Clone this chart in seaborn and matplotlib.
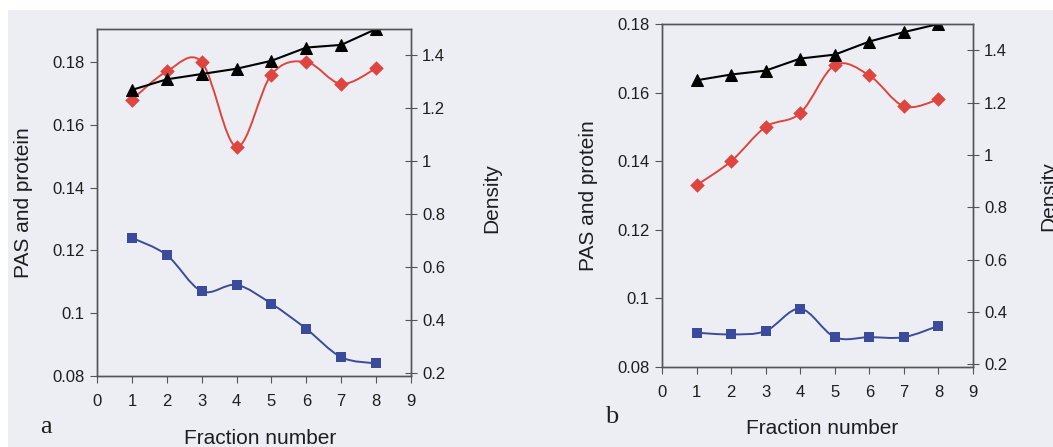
import numpy as np
import matplotlib
matplotlib.use("Agg")
import matplotlib.pyplot as plt
from matplotlib.path import Path
from matplotlib.patches import PathPatch, Rectangle
from matplotlib.ticker import MultipleLocator, FuncFormatter
import seaborn as sns

# --- data ---
fractions = [1, 2, 3, 4, 5, 6, 7, 8]

# panel a
pas_a = [0.168, 0.177, 0.180, 0.153, 0.176, 0.180, 0.173, 0.178]
protein_a = [0.124, 0.1185, 0.107, 0.109, 0.103, 0.095, 0.086, 0.084]
density_a = [1.27, 1.31, 1.33, 1.35, 1.38, 1.43, 1.44, 1.50]

# panel b
pas_b = [0.133, 0.140, 0.150, 0.154, 0.168, 0.165, 0.156, 0.158]
protein_b = [0.090, 0.0895, 0.0905, 0.097, 0.0887, 0.0887, 0.0887, 0.092]
density_b = [1.285, 1.307, 1.322, 1.368, 1.383, 1.433, 1.469, 1.50]

W, H = 1053, 447
BG = "#eceef4"
RED = "#e0443e"
BLUE = "#3b4b9b"
SPINE = "#555555"
TXT = "#1e1e1e"

sns.set_theme(style="white")
plt.rcParams["font.family"] = ["Liberation Sans", "DejaVu Sans"]


def px(x, y):
    return x / W, 1 - y / H


def smooth_line(ax, x, y, color):
    # Excel style smoothed connector (Catmull-Rom as cubic Bezier)
    pts = np.column_stack([x, y]).astype(float)
    n = len(pts)
    verts = [pts[0]]
    codes = [Path.MOVETO]
    for i in range(n - 1):
        p0 = pts[i - 1] if i > 0 else pts[i]
        p1, p2 = pts[i], pts[i + 1]
        p3 = pts[i + 2] if i + 2 < n else pts[i + 1]
        verts += [p1 + (p2 - p0) / 6, p2 - (p3 - p1) / 6, p2]
        codes += [Path.CURVE4] * 3
    ax.add_patch(PathPatch(Path(verts, codes), fill=False, edgecolor=color, lw=1.4, zorder=2))


fmt = FuncFormatter(lambda v, _: f"{round(v, 4):g}")


def draw_panel(rect, pas, protein, density, ylim_left, ylim_right):
    ax = fig.add_axes(rect)
    ax.set_facecolor("none")
    smooth_line(ax, fractions, pas, RED)
    smooth_line(ax, fractions, protein, BLUE)
    sns.scatterplot(x=fractions, y=pas, ax=ax, color=RED, marker="D", s=55,
                    edgecolor=RED, linewidth=0, zorder=3)
    sns.scatterplot(x=fractions, y=protein, ax=ax, color=BLUE, marker="s", s=55,
                    edgecolor=BLUE, linewidth=0, zorder=3)
    ax.set_xlim(0, 9)
    ax.set_ylim(*ylim_left)
    ax.xaxis.set_major_locator(MultipleLocator(1))
    ax.yaxis.set_major_locator(MultipleLocator(0.02))
    ax.yaxis.set_major_formatter(fmt)
    ax.tick_params(axis="both", direction="out", length=5, width=0.8, color=SPINE,
                   labelsize=12, labelcolor=TXT, pad=4)
    ax.tick_params(axis="x", pad=8, bottom=True)
    ax.tick_params(axis="y", left=True)

    ax2 = ax.twinx()
    sns.lineplot(x=fractions, y=density, ax=ax2, color="black", lw=1.5,
                 marker="^", markersize=9, markeredgecolor="black")
    ax2.set_ylim(*ylim_right)
    ax2.yaxis.set_major_locator(MultipleLocator(0.2))
    ax2.yaxis.set_major_formatter(fmt)
    ax2.tick_params(axis="y", direction="inout", length=8, width=0.8, color=SPINE,
                    labelsize=12, labelcolor=TXT, pad=4, right=True)
    ax2.set_ylabel("")
    for a in (ax, ax2):
        for s in a.spines.values():
            s.set_color(SPINE)
            s.set_linewidth(1.0)
    return ax, ax2


fig = plt.figure(figsize=(W / 100, H / 100), dpi=100, facecolor=BG)

draw_panel([97 / W, (H - 376) / H, 314 / W, 347 / H], pas_a, protein_a, density_a,
           (0.08, 0.1905), (0.19, 1.5))
draw_panel([662 / W, (H - 367) / H, 311 / W, 343 / H], pas_b, protein_b, density_b,
           (0.08, 0.18), (0.19, 1.5))

# axis titles
for x, y in [(14, 203), (579, 196)]:
    fig.text(*px(x, y), "PAS and protein", rotation=90, ha="left", va="center",
             fontsize=15, color=TXT)
for x, y in [(482, 198), (1039, 196)]:
    fig.text(*px(x, y), "Density", rotation=90, ha="left", va="center",
             fontsize=15, color=TXT)
for x, y in [(260, 429), (822, 419)]:
    fig.text(*px(x, y), "Fraction number", ha="center", va="top",
             fontsize=15, color=TXT)

# panel letters
fig.text(*px(40, 433), "a", ha="left", va="baseline", fontsize=19,
         family=["Liberation Serif", "DejaVu Serif"], color=TXT)
fig.text(*px(605, 423), "b", ha="left", va="baseline", fontsize=19,
         family=["Liberation Serif", "DejaVu Serif"], color=TXT)

# white scan border on top and left
fig.add_artist(Rectangle((0, 1 - 10 / H), 1, 10 / H, transform=fig.transFigure,
                         facecolor="white", edgecolor="none", zorder=-1))
fig.add_artist(Rectangle((0, 0), 8 / W, 1, transform=fig.transFigure,
                         facecolor="white", edgecolor="none", zorder=-1))

fig.savefig("out.png", dpi=100, facecolor=BG)
